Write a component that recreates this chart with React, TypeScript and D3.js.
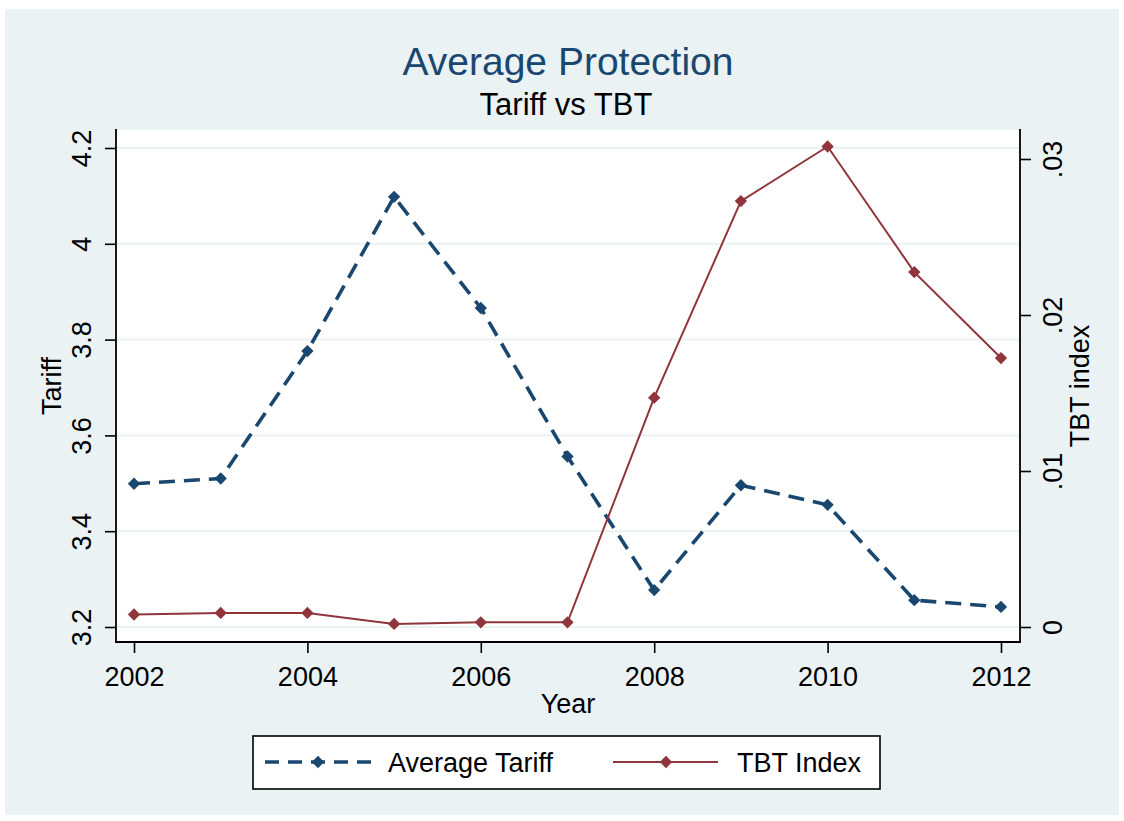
import React, { useRef, useEffect } from 'react';
import * as d3 from 'd3';

const years = [2002, 2003, 2004, 2005, 2006, 2007, 2008, 2009, 2010, 2011, 2012];
const avgTariff = [3.499, 3.51, 3.776, 4.098, 3.866, 3.556, 3.277, 3.496, 3.455, 3.256, 3.242];
const tbtIndex = [0.0008, 0.0009, 0.0009, 0.0002, 0.0003, 0.0003, 0.0147, 0.0273, 0.0308, 0.02275, 0.01724];
const xTicks = [2002, 2004, 2006, 2008, 2010, 2012];
const leftTicks = [3.2, 3.4, 3.6, 3.8, 4.0, 4.2];
const rightTicks = [0, 0.01, 0.02, 0.03];

const W = 1124;
const H = 821;
const FONT = '"Liberation Sans", Arial, sans-serif';
const NAVY = '#1a476f';
const MAROON = '#90353b';
const BG = '#eaf2f3';

function App() {
  const svgRef = useRef(null);

  useEffect(() => {
    const svg = d3.select(svgRef.current);
    svg.selectAll('*').remove();

    const plot = { left: 116, right: 1020, top: 130, bottom: 642 };

    const x = d3.scaleLinear().domain([2002, 2012]).range([134, 1001]);
    const yL = d3.scaleLinear().domain([3.2, 4.2]).range([627, 148]);
    const yR = d3.scaleLinear().domain([0, 0.03]).range([627, 159]);

    // backgrounds
    svg.append('rect').attr('x', 5).attr('y', 9).attr('width', 1114).attr('height', 806).attr('fill', BG);
    svg.append('rect')
      .attr('x', plot.left).attr('y', plot.top)
      .attr('width', plot.right - plot.left).attr('height', plot.bottom - plot.top)
      .attr('fill', 'white');

    // gridlines
    svg.append('g').selectAll('line').data(leftTicks).join('line')
      .attr('x1', plot.left).attr('x2', plot.right)
      .attr('y1', d => yL(d)).attr('y2', d => yL(d))
      .attr('stroke', BG).attr('stroke-width', 2);

    // titles
    svg.append('text').attr('x', 568).attr('y', 75).attr('text-anchor', 'middle')
      .attr('font-family', FONT).attr('font-size', 39).attr('fill', NAVY).text('Average Protection');
    svg.append('text').attr('x', 566).attr('y', 115).attr('text-anchor', 'middle')
      .attr('font-family', FONT).attr('font-size', 31).attr('fill', 'black').text('Tariff vs TBT');

    const styleAxis = (g: any) => {
      g.select('.domain').remove();
      g.selectAll('.tick line').attr('stroke', 'black').attr('stroke-width', 1.6);
      g.selectAll('text').attr('font-family', FONT).attr('font-size', 27).attr('fill', 'black');
    };

    // left axis
    const gl = svg.append('g').attr('transform', `translate(${plot.left},0)`)
      .call(d3.axisLeft(yL).tickValues(leftTicks).tickSize(11)
        .tickFormat((d: any) => String(+(+d).toFixed(1))));
    styleAxis(gl);
    gl.selectAll('text').attr('x', null).attr('dy', null).attr('text-anchor', 'middle')
      .attr('transform', 'translate(-25,0) rotate(-90)');

    // right axis
    const gr = svg.append('g').attr('transform', `translate(${plot.right},0)`)
      .call(d3.axisRight(yR).tickValues(rightTicks).tickSize(11)
        .tickFormat((d: any) => (d === 0 ? '0' : (+d).toFixed(2).replace(/^0/, ''))));
    styleAxis(gr);
    gr.selectAll('text').attr('x', null).attr('dy', null).attr('text-anchor', 'middle')
      .attr('transform', 'translate(42,0) rotate(-90)');

    // bottom axis
    const gb = svg.append('g').attr('transform', `translate(0,${plot.bottom})`)
      .call(d3.axisBottom(x).tickValues(xTicks).tickSize(11).tickFormat((d: any) => String(d)));
    styleAxis(gb);
    gb.selectAll('text').attr('y', 44).attr('dy', null);

    // axis lines
    const axisLines = [
      [plot.left, plot.top, plot.left, plot.bottom],
      [plot.right, plot.top, plot.right, plot.bottom],
      [plot.left, plot.bottom, plot.right, plot.bottom],
    ];
    svg.append('g').selectAll('line').data(axisLines).join('line')
      .attr('x1', d => d[0]).attr('y1', d => d[1]).attr('x2', d => d[2]).attr('y2', d => d[3])
      .attr('stroke', 'black').attr('stroke-width', 1.8).attr('stroke-linecap', 'square');

    // axis titles
    svg.append('text').attr('x', 568).attr('y', 713).attr('text-anchor', 'middle')
      .attr('font-family', FONT).attr('font-size', 27).text('Year');
    svg.append('text').attr('transform', `translate(61,386) rotate(-90)`).attr('text-anchor', 'middle')
      .attr('font-family', FONT).attr('font-size', 27).text('Tariff');
    svg.append('text').attr('transform', `translate(1089,386) rotate(-90)`).attr('text-anchor', 'middle')
      .attr('font-family', FONT).attr('font-size', 27).text('TBT index');

    const diamond = d3.symbol().type(d3.symbolSquare).size(76);

    // tariff line
    const tariffLine = d3.line<number>().x((d, i) => x(years[i])).y(d => yL(d));
    svg.append('path').datum(avgTariff).attr('d', tariffLine)
      .attr('fill', 'none').attr('stroke', NAVY).attr('stroke-width', 3.6)
      .attr('stroke-dasharray', '16,9');
    svg.append('g').selectAll('path').data(avgTariff).join('path')
      .attr('d', diamond as any)
      .attr('transform', (d, i) => `translate(${x(years[i])},${yL(d)}) rotate(45)`)
      .attr('fill', NAVY);

    // TBT line
    const tbtLine = d3.line<number>().x((d, i) => x(years[i])).y(d => yR(d));
    svg.append('path').datum(tbtIndex).attr('d', tbtLine)
      .attr('fill', 'none').attr('stroke', MAROON).attr('stroke-width', 2);
    svg.append('g').selectAll('path').data(tbtIndex).join('path')
      .attr('d', diamond as any)
      .attr('transform', (d, i) => `translate(${x(years[i])},${yR(d)}) rotate(45)`)
      .attr('fill', MAROON);

    // legend
    const lg = svg.append('g');
    lg.append('rect').attr('x', 253).attr('y', 736).attr('width', 627).attr('height', 53)
      .attr('fill', 'white').attr('stroke', 'black').attr('stroke-width', 1.6);
    const ly = 762;
    lg.append('line').attr('x1', 265).attr('x2', 372).attr('y1', ly).attr('y2', ly)
      .attr('stroke', NAVY).attr('stroke-width', 3.6).attr('stroke-dasharray', '14,9');
    lg.append('path').attr('d', diamond as any).attr('transform', `translate(318,${ly}) rotate(45)`).attr('fill', NAVY);
    lg.append('text').attr('x', 388).attr('y', 772).attr('font-family', FONT).attr('font-size', 27).text('Average Tariff');
    lg.append('line').attr('x1', 613).attr('x2', 718).attr('y1', ly).attr('y2', ly)
      .attr('stroke', MAROON).attr('stroke-width', 2);
    lg.append('path').attr('d', diamond as any).attr('transform', `translate(666,${ly}) rotate(45)`).attr('fill', MAROON);
    lg.append('text').attr('x', 737).attr('y', 772).attr('font-family', FONT).attr('font-size', 27).text('TBT Index');
  }, []);

  return (
    <div style={{ position: 'absolute', left: 0, top: 0, background: 'white' }}>
      <svg ref={svgRef} width={W} height={H} style={{ display: 'block' }}></svg>
    </div>
  );
}

export default App;
